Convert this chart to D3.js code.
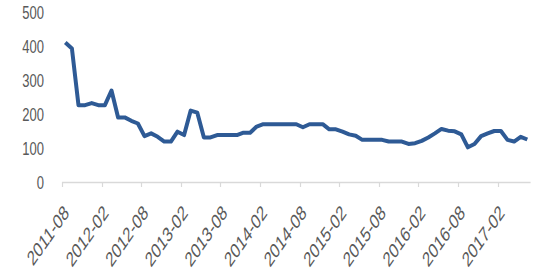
<!DOCTYPE html>
<html>
<head>
<meta charset="utf-8">
<script src="https://cdn.jsdelivr.net/npm/d3@7"></script>
<style>
  body { margin: 0; background: #fff; }
  text { font-family: "Liberation Sans", Arial, sans-serif; fill: #595959; }
</style>
</head>
<body>
<div id="chart"></div>
<script>
// monthly values, 2011-08 .. 2017-06
var startYear = 2011;
var startMonth = 8;
var values = [410, 393, 226, 226, 232, 226, 226, 269, 190, 190,
  180, 172, 135, 143, 133, 119, 119, 148, 138, 210,
  204, 131, 131, 138, 138, 138, 138, 145, 145, 163,
  170, 170, 170, 170, 170, 170, 161, 170, 170, 170,
  155, 155, 148, 140, 136, 124, 124, 124, 124, 119,
  119, 119, 112, 114, 121, 131, 143, 156, 151, 149,
  140, 102, 112, 135, 143, 150, 150, 124, 119, 133, 125];
var yTicks = [0, 100, 200, 300, 400, 500];

var months = values.map(function(v, i) {
  var m = startMonth - 1 + i;
  var y = startYear + Math.floor(m / 12);
  var mm = (m % 12) + 1;
  return y + "-" + (mm < 10 ? "0" + mm : mm);
});

var width = 542, height = 273;
var stretch = 1.43; // the picture's text looks tall and narrow

var svg = d3.select("#chart").append("svg")
  .attr("width", width)
  .attr("height", height);

var x = d3.scaleBand()
  .domain(months)
  .range([62, 530.6]);

var y = d3.scaleLinear()
  .domain([0, 500])
  .range([182, 12]);

// y labels
svg.selectAll(".ylab")
  .data(yTicks)
  .enter().append("text")
  .attr("class", "ylab")
  .attr("transform", function(d) { return "translate(44," + y(d) + ") scale(1," + stretch + ")"; })
  .attr("text-anchor", "end")
  .attr("dy", "0.36em")
  .style("font-size", "13px")
  .text(function(d) { return d; });

// x axis line + ticks every 6 months
svg.append("line")
  .attr("x1", 62).attr("x2", 530.6)
  .attr("y1", 182.5).attr("y2", 182.5)
  .attr("stroke", "#d9d9d9")
  .attr("stroke-width", 1.5);

var labelMonths = months.filter(function(d, i) { return i % 6 === 0; });

svg.selectAll(".tick")
  .data(labelMonths)
  .enter().append("line")
  .attr("x1", function(d) { return Math.round(x(d)) + 0.5; })
  .attr("x2", function(d) { return Math.round(x(d)) + 0.5; })
  .attr("y1", 182)
  .attr("y2", 187)
  .attr("stroke", "#d9d9d9")
  .attr("stroke-width", 1.2);

svg.selectAll(".xlab")
  .data(labelMonths)
  .enter().append("text")
  .attr("class", "xlab")
  .attr("transform", function(d) {
    var cx = x(d) + x.bandwidth() / 2;
    return "translate(" + (cx + 1) + ",209) scale(1," + stretch + ") rotate(-45)";
  })
  .attr("text-anchor", "end")
  .attr("dy", "0.35em")
  .style("font-size", "14.5px")
  .text(function(d) { return d; });

// the line
var line = d3.line()
  .x(function(d, i) { return x(months[i]) + x.bandwidth() / 2; })
  .y(function(d) { return y(d); });

svg.append("path")
  .datum(values)
  .attr("d", line)
  .attr("fill", "none")
  .attr("stroke", "#2e5a95")
  .attr("stroke-width", 4)
  .attr("stroke-linejoin", "round");
</script>
</body>
</html>
